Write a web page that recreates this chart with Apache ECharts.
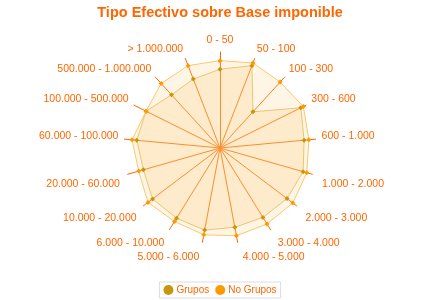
<!DOCTYPE html>
<html><head><meta charset="utf-8">
<script src="https://cdn.jsdelivr.net/npm/echarts@6/dist/echarts.min.js"></script>
<style>html,body{margin:0;padding:0;background:#fff}#c{width:440px;height:300px}</style>
</head><body><div id="c"></div>
<script>
const categories = ['0 - 50','50 - 100','100 - 300','300 - 600','600 - 1.000','1.000 - 2.000','2.000 - 3.000','3.000 - 4.000','4.000 - 5.000','5.000 - 6.000','6.000 - 10.000','10.000 - 20.000','20.000 - 60.000','60.000 - 100.000','100.000 - 500.000','500.000 - 1.000.000','> 1.000.000'];
const grupos = [82, 92, 51, 94, 88, 90, 87.5, 85, 84, 87, 86, 88, 83, 87, 86, 75, 77];
const noGrupos = [91, 95, 93, 97, 93, 94, 95, 93, 93, 92, 90, 94, 88, 92, 86, 91, 92];
const seriesNames = ['Grupos', 'No Grupos'];

// ECharts radar runs counter-clockwise; reorder so categories run clockwise from the top.
const order = [0].concat(categories.map((_, i) => i).slice(1).reverse());
const pick = arr => order.map(i => arr[i]);

// label placement style per position around the radar (clockwise index)
function labelStyleKey(i) {
  if (i === 0) return 't';
  if (i <= 3 || i >= 14) return 'u';
  if (i === 4 || i === 13) return 's';
  if (i <= 8) return 'dr';
  return 'dl';
}
const keyByName = {};
categories.forEach((c, i) => { keyByName[c] = labelStyleKey(i); });

const chart = echarts.init(document.getElementById('c'));
chart.setOption({
  animation: false,
  textStyle: { fontFamily: 'Liberation Sans, Arial, sans-serif' },
  title: {
    text: 'Tipo Efectivo sobre Base imponible',
    left: 'center', top: 0,
    textStyle: { color: '#ff6600', fontSize: 14.5, fontWeight: 'bold', fontFamily: 'Liberation Sans, Arial, sans-serif' }
  },
  legend: {
    data: seriesNames,
    bottom: 2, left: 'center',
    icon: 'circle', itemWidth: 10, itemHeight: 10, itemGap: 6,
    borderColor: '#dddddd', borderWidth: 1, padding: [3, 4],
    textStyle: { color: '#ff6600', fontSize: 10, padding: [0, 0, 0, -2] }
  },
  radar: {
    center: [220, 148],
    radius: 96,
    startAngle: 90,
    indicator: pick(categories).map(n => ({ name: n, max: 100, min: 0 })),
    axisName: {
      color: '#ff6600', fontSize: 10.5,
      formatter: name => '{' + keyByName[name] + '|' + name + '}',
      rich: {
        t: { color: '#ff6600', fontSize: 10.5, padding: [2, 0, 0, 0] },
        u: { color: '#ff6600', fontSize: 10.5, padding: [0, 0, 7, 0] },
        s: { color: '#ff6600', fontSize: 10.5, padding: [0, 0, 4, 0] },
        dr: { color: '#ff6600', fontSize: 10.5, padding: [17, 0, 0, 4] },
        dl: { color: '#ff6600', fontSize: 10.5, padding: [17, 2, 0, 0] }
      }
    },
    nameGap: 6,
    splitNumber: 1,
    axisLine: { lineStyle: { color: '#ff6600', width: 1 } },
    splitLine: { show: false },
    splitArea: { show: false },
    axisTick: { show: false },
    axisLabel: { show: false }
  },
  series: [{
    type: 'radar',
    symbol: 'diamond', symbolSize: 5,
    data: [
      { name: seriesNames[0], value: pick(grupos),
        itemStyle: { color: '#c8960a' },
        lineStyle: { color: '#e6c170', width: 1 },
        areaStyle: { color: '#f5c36a', opacity: 0.22 } },
      { name: seriesNames[1], value: pick(noGrupos),
        itemStyle: { color: '#ff9900' },
        lineStyle: { color: '#fcc66a', width: 1 },
        areaStyle: { color: '#fbd38a', opacity: 0.22 } }
    ]
  }]
});
</script></body></html>
